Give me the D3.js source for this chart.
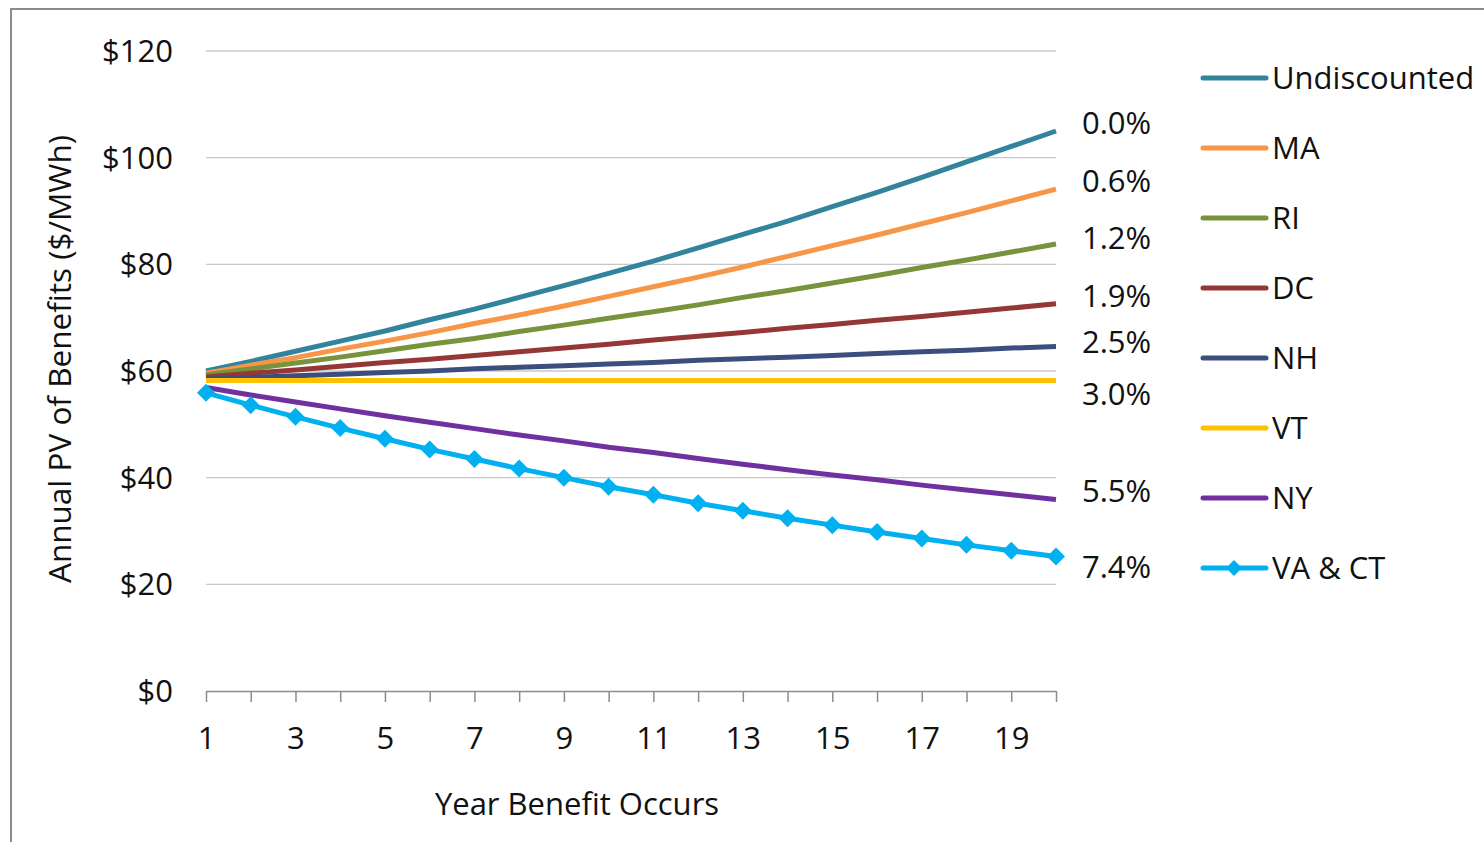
<!DOCTYPE html>
<html>
<head>
<meta charset="utf-8">
<script src="https://cdn.jsdelivr.net/npm/d3@7"></script>
<style>
  html, body { margin: 0; padding: 0; background: #fff; }
  svg { display: block; }
  text { font-family: "Open Sans", Lato, sans-serif; fill: #111; }
</style>
</head>
<body>
<svg id="chart" width="1484" height="842"></svg>
<script>
// Year in which the benefit occurs
const years = d3.range(1, 21);

// Series names (legend order) and their discount-rate labels
const seriesNames = ["Undiscounted", "MA", "RI", "DC", "NH", "VT", "NY", "VA & CT"];
const rateLabels = ["0.0%", "0.6%", "1.2%", "1.9%", "2.5%", "3.0%", "5.5%", "7.4%"];
const seriesColors = ["#31849B", "#F79646", "#77933C", "#953735", "#3B4E7E", "#FFC000", "#7030A0", "#00B0F0"];

// Annual present value of benefits ($/MWh), years 1..20
const undiscounted = [60.0, 61.8, 63.7, 65.6, 67.5, 69.6, 71.6, 73.8, 76.0, 78.3, 80.6, 83.1, 85.6, 88.1, 90.8, 93.5, 96.3, 99.2, 102.1, 105.0];
const ma = [59.6, 61.1, 62.5, 64.1, 65.6, 67.2, 68.9, 70.5, 72.2, 74.0, 75.8, 77.6, 79.5, 81.5, 83.5, 85.5, 87.6, 89.7, 91.9, 94.1];
const ri = [59.3, 60.4, 61.5, 62.6, 63.8, 65.0, 66.1, 67.4, 68.6, 69.9, 71.1, 72.4, 73.8, 75.1, 76.5, 77.9, 79.4, 80.8, 82.3, 83.8];
const dc = [58.9, 59.6, 60.2, 60.9, 61.6, 62.2, 62.9, 63.6, 64.3, 65.0, 65.8, 66.5, 67.2, 68.0, 68.7, 69.5, 70.2, 71.0, 71.8, 72.6];
const nh = [58.5, 58.8, 59.1, 59.4, 59.7, 60.0, 60.4, 60.7, 61.0, 61.3, 61.6, 62.0, 62.3, 62.6, 62.9, 63.3, 63.6, 63.9, 64.3, 64.6];
const vt = [58.2, 58.2, 58.2, 58.2, 58.2, 58.2, 58.2, 58.2, 58.2, 58.2, 58.2, 58.2, 58.2, 58.2, 58.2, 58.2, 58.2, 58.2, 58.2, 58.2];
const ny = [56.9, 55.5, 54.2, 52.9, 51.6, 50.4, 49.2, 48.0, 46.9, 45.7, 44.7, 43.6, 42.5, 41.5, 40.5, 39.6, 38.6, 37.7, 36.8, 35.9];
const vact = [55.9, 53.6, 51.4, 49.3, 47.3, 45.3, 43.5, 41.7, 40.0, 38.3, 36.8, 35.2, 33.8, 32.4, 31.1, 29.8, 28.6, 27.4, 26.3, 25.2];

const seriesValues = [undiscounted, ma, ri, dc, nh, vt, ny, vact];

// Axis ticks
const yTicks = [0, 20, 40, 60, 80, 100, 120];
const xLabelYears = [1, 3, 5, 7, 9, 11, 13, 15, 17, 19];

const svg = d3.select("#chart");

// outer chart frame
svg.append("rect")
  .attr("x", 11).attr("y", 9)
  .attr("width", 1600).attr("height", 1000)
  .attr("fill", "none").attr("stroke", "#8c8c8c").attr("stroke-width", 2);

const x = d3.scaleLinear().domain([1, 20]).range([206, 1056]);
const y = d3.scaleLinear().domain([0, 120]).range([691, 51]);

// horizontal gridlines
svg.append("g")
  .selectAll("line")
  .data(yTicks.filter(d => d > 0))
  .join("line")
  .attr("x1", x(1)).attr("x2", x(20))
  .attr("y1", d => y(d)).attr("y2", d => y(d))
  .attr("stroke", "#c8c8c8").attr("stroke-width", 1.3);

// y tick labels
svg.append("g")
  .selectAll("text")
  .data(yTicks)
  .join("text")
  .attr("x", 173)
  .attr("y", d => y(d))
  .attr("dy", "0.35em")
  .attr("text-anchor", "end")
  .style("font-size", "31px")
  .text(d => "$" + d);

// x axis with a tick at every year, labels on odd years
const xAxis = d3.axisBottom(x)
  .tickValues(years)
  .tickSize(11)
  .tickSizeOuter(0)
  .tickFormat(d => xLabelYears.includes(d) ? d : "");
const gx = svg.append("g")
  .attr("transform", `translate(0,${y(0)})`)
  .call(xAxis);
gx.select(".domain").attr("stroke", "#8c8c8c").attr("stroke-width", 1.5);
gx.selectAll(".tick line").attr("stroke", "#8c8c8c").attr("stroke-width", 1.5);
gx.selectAll(".tick text")
  .attr("y", 0).attr("dy", 0)
  .attr("transform", "translate(0,58)")
  .style("font-size", "31px")
  .style("font-family", "'Open Sans', Lato, sans-serif")
  .attr("fill", "#111");

// axis titles
svg.append("text")
  .attr("x", 577).attr("y", 815)
  .attr("text-anchor", "middle")
  .style("font-size", "31px")
  .text("Year Benefit Occurs");

svg.append("text")
  .attr("transform", "translate(71,359) rotate(-90)")
  .attr("text-anchor", "middle")
  .style("font-size", "31.5px")
  .text("Annual PV of Benefits ($/MWh)");

// series lines
const line = d3.line()
  .x((d, i) => x(years[i]))
  .y(d => y(d));

const diamond = r => `M0,${-r}L${r},0L0,${r}L${-r},0Z`;

seriesValues.forEach((vals, k) => {
  svg.append("path")
    .datum(vals)
    .attr("d", line)
    .attr("fill", "none")
    .attr("stroke", seriesColors[k])
    .attr("stroke-width", 5)
    .attr("stroke-linejoin", "round");
});

// diamond markers on the VA & CT series
svg.append("g")
  .selectAll("path")
  .data(vact)
  .join("path")
  .attr("transform", (d, i) => `translate(${x(years[i])},${y(d)})`)
  .attr("d", diamond(9))
  .attr("fill", seriesColors[7]);

// discount-rate labels at the right end of each line
const rateLabelY = [123, 181, 238, 296, 342, 394, 491, 567];
svg.append("g")
  .selectAll("text")
  .data(rateLabels)
  .join("text")
  .attr("x", 1082)
  .attr("y", (d, i) => rateLabelY[i])
  .attr("dy", "0.35em")
  .style("font-size", "31px")
  .text(d => d);

// legend
const legend = svg.append("g");
seriesNames.forEach((name, k) => {
  const ly = 78 + k * 70;
  legend.append("line")
    .attr("x1", 1203).attr("x2", 1266)
    .attr("y1", ly).attr("y2", ly)
    .attr("stroke", seriesColors[k])
    .attr("stroke-width", 5)
    .attr("stroke-linecap", "round");
  if (k === 7) {
    legend.append("path")
      .attr("transform", `translate(1234,${ly})`)
      .attr("d", diamond(8))
      .attr("fill", seriesColors[k]);
  }
  legend.append("text")
    .attr("x", 1272).attr("y", ly)
    .attr("dy", "0.35em")
    .style("font-size", "31px")
    .text(name);
});
</script>
</body>
</html>
